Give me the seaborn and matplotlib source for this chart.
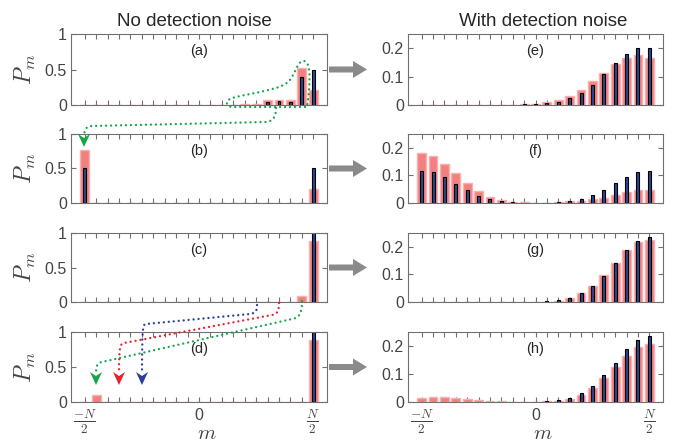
import numpy as np
import pandas as pd
import matplotlib
matplotlib.use('Agg')
import matplotlib.pyplot as plt
import seaborn as sns
from matplotlib.path import Path
from matplotlib.patches import PathPatch, Polygon
from matplotlib.transforms import Affine2D

# m = -N/2 .. N/2 with N = 20
m = np.arange(-10, 11)

# no detection noise (left column)
a_red = [0, 0, 0, 0, 0, 0, 0, 0, 0, 0, 0, 0, 0, 0.005, 0.012, 0.018, 0.07, 0.07, 0.07, 0.52, 0.21]
a_blue = [0, 0, 0, 0, 0, 0, 0, 0, 0, 0, 0, 0, 0, 0, 0, 0.004, 0.045, 0.05, 0.045, 0.40, 0.50]
b_red = [0.77] + [0] * 19 + [0.2]
b_blue = [0.5] + [0] * 19 + [0.5]
c_red = [0] * 19 + [0.09, 0.885]
c_blue = [0] * 20 + [1.0]
d_red = [0, 0.1] + [0] * 18 + [0.885]
d_blue = [0] * 20 + [1.0]

# with detection noise (right column)
e_red = [0, 0, 0, 0, 0, 0, 0, 0, 0.001, 0.002, 0.005, 0.011, 0.018, 0.033, 0.054, 0.083, 0.114, 0.146, 0.166, 0.175, 0.165]
e_blue = [0, 0, 0, 0, 0, 0, 0, 0, 0, 0.002, 0.004, 0.007, 0.012, 0.023, 0.043, 0.072, 0.108, 0.147, 0.181, 0.199, 0.199]
f_red = [0.18, 0.17, 0.143, 0.107, 0.072, 0.042, 0.022, 0.01, 0.005, 0.002, 0.001, 0.001, 0.002, 0.006, 0.008, 0.014, 0.019, 0.03, 0.04, 0.047, 0.048]
f_blue = [0.117, 0.111, 0.093, 0.07, 0.046, 0.027, 0.014, 0.007, 0.003, 0.001, 0.001, 0.001, 0.003, 0.007, 0.014, 0.028, 0.046, 0.071, 0.093, 0.111, 0.117]
g_red = [0] * 11 + [0.001, 0.005, 0.014, 0.032, 0.059, 0.097, 0.143, 0.187, 0.217, 0.226]
g_blue = [0] * 11 + [0.002, 0.006, 0.014, 0.031, 0.057, 0.096, 0.141, 0.187, 0.222, 0.234]
h_red = [0.016, 0.018, 0.017, 0.013, 0.01, 0.007, 0.005, 0.002, 0.001, 0.001, 0.001, 0.002, 0.004, 0.011, 0.025, 0.05, 0.084, 0.125, 0.166, 0.196, 0.208]
h_blue = [0] * 11 + [0.002, 0.007, 0.013, 0.031, 0.057, 0.096, 0.141, 0.188, 0.222, 0.235]

left_panels = [('(a)', a_red, a_blue), ('(b)', b_red, b_blue), ('(c)', c_red, c_blue), ('(d)', d_red, d_blue)]
right_panels = [('(e)', e_red, e_blue), ('(f)', f_red, f_blue), ('(g)', g_red, g_blue), ('(h)', h_red, h_blue)]

RED = '#f38080'
RED_EDGE = '#f8b0b0'
BLUE = '#2d4697'
GREY_TXT = '#444444'
GREY_AX = '#707070'

sns.set_style('ticks')
plt.rcParams['font.family'] = ['Liberation Sans', 'DejaVu Sans']
plt.rcParams['mathtext.fontset'] = 'cm'

fig = plt.figure(figsize=(6.8, 4.42), dpi=100)
W, H = 680, 442
rows_px = [(34, 105), (134, 203), (233, 302), (332, 402)]
cols_px = [(71, 327), (408, 663)]


def draw_panel(ax, label, red, blue, ymax, yticks, yticklabels, bottom):
    df = pd.DataFrame({'m': m, 'red': red, 'blue': blue})
    sns.barplot(data=df, x='m', y='red', native_scale=True, width=0.78, color=RED,
                edgecolor=RED_EDGE, linewidth=1, saturation=1, errorbar=None, ax=ax)
    sns.barplot(data=df, x='m', y='blue', native_scale=True, width=0.26, color=BLUE,
                edgecolor='black', linewidth=0.8, saturation=1, errorbar=None, ax=ax)
    ax.set_xlim(-11.2, 11.2)
    ax.set_ylim(0, ymax)
    ax.set_xticks([-10, 0, 10])
    ax.set_xticks(m, minor=True)
    ax.set_yticks(yticks)
    ax.set_yticklabels(yticklabels)
    ax.set_ylabel('')
    ax.tick_params(which='both', direction='in', bottom=True, left=True, top=True, right=True,
                   length=3.5, width=0.8, color=GREY_AX, labelcolor=GREY_TXT, labelsize=11.5, pad=3)
    if bottom:
        ax.set_xticklabels([r'$\frac{-N}{2}$', '0', r'$\frac{N}{2}$'])
        ax.tick_params(axis='x', labelsize=13.5, pad=4)
        ax.get_xticklabels()[1].set_fontsize(11.5)
        ax.set_xlabel('$m$', fontsize=15, color=GREY_TXT)
        ax.xaxis.label.set_va('center')
        ax.xaxis.set_label_coords(0.53, -0.45)
    else:
        ax.set_xticklabels([])
        ax.set_xlabel('')
    for s in ax.spines.values():
        s.set_visible(True)
        s.set_color(GREY_AX)
        s.set_linewidth(0.8)
    ax.text(0.5, 0.76, label, transform=ax.transAxes, ha='center', va='center', fontsize=10.5)


for r, (y0, y1) in enumerate(rows_px):
    for c, panels in enumerate([left_panels, right_panels]):
        x0, x1 = cols_px[c]
        ax = fig.add_axes([x0 / W, 1 - y1 / H, (x1 - x0) / W, (y1 - y0) / H])
        label, red, blue = panels[r]
        if c == 0:
            draw_panel(ax, label, red, blue, 1, [0, 0.5, 1], ['0', '0.5', '1'], r == 3)
            ax.set_ylabel('$P_m$', fontsize=17, color=GREY_TXT)
            ax.yaxis.set_label_coords(-0.13, 0.5)
        else:
            draw_panel(ax, label, red, blue, 0.25, [0, 0.1, 0.2], ['0', '0.1', '0.2'], r == 3)

fig.text(194 / W, 1 - 22 / H, 'No detection noise', ha='center', va='center', fontsize=13.5)
fig.text(543 / W, 1 - 22 / H, 'With detection noise', ha='center', va='center', fontsize=13.5)

# annotation layer in pixel coordinates measured from the top-left corner
tr = Affine2D().scale(1 / W, -1 / H).translate(0, 1) + fig.transFigure

# grey arrows between the columns
for y0, y1 in rows_px:
    yc = (y0 + y1) / 2
    pts = [(329, yc - 3), (353, yc - 3), (353, yc - 8.5), (367, yc), (353, yc + 8.5), (353, yc + 3), (329, yc + 3)]
    fig.add_artist(Polygon(pts, closed=True, transform=tr, color='#8a8a8a', lw=0))

GREEN = '#16a64a'
RED_L = '#e8202a'
BLUE_L = '#2b3f99'
M, L, C = Path.MOVETO, Path.LINETO, Path.CURVE4


def dotted(verts, codes, color):
    p = PathPatch(Path(verts, codes), transform=tr, fill=False, edgecolor=color,
                  lw=1.7, linestyle=(0, (0.01, 2.1)), capstyle='round')
    fig.add_artist(p)


def head(x, y, color):
    fig.add_artist(Polygon([(x - 6, y - 13), (x, y - 9), (x + 6, y - 13), (x, y)], closed=True,
                           transform=tr, color=color, lw=0))


# green loop around the bars of (a) and the path into (b)
dotted([(305, 107), (233, 107),
        (226, 107), (224, 101), (232, 98),
        (255, 92), (282, 90), (290, 80),
        (296, 72), (298, 60), (304, 61),
        (310, 62), (310, 75), (309, 90),
        (308, 100), (308, 107), (305, 107)],
       [M, L, C, C, C, C, C, C, C, C, C, C, C, C, C, C, C], GREEN)
dotted([(276, 108), (276, 116), (274, 121), (266, 122), (92, 126), (86, 126), (84, 130), (84, 137)],
       [M, C, C, C, L, C, C, C], GREEN)
head(84, 147, GREEN)

# paths from (c) down to (d)
dotted([(302, 301), (302, 312), (300, 318), (292, 319), (102, 362), (97, 363), (96, 366), (96, 374)],
       [M, C, C, C, L, C, C, C], GREEN)
head(96, 385, GREEN)
dotted([(279, 303), (279, 310), (278, 314), (272, 315), (124, 343), (120, 344), (119, 346), (119, 374)],
       [M, C, C, C, L, C, C, C], RED_L)
head(119, 385, RED_L)
dotted([(257, 305), (257, 311), (256, 313), (250, 314), (146, 324), (143, 324), (142, 326), (142, 374)],
       [M, C, C, C, L, C, C, C], BLUE_L)
head(142, 385, BLUE_L)

fig.savefig('out.png', dpi=100)
